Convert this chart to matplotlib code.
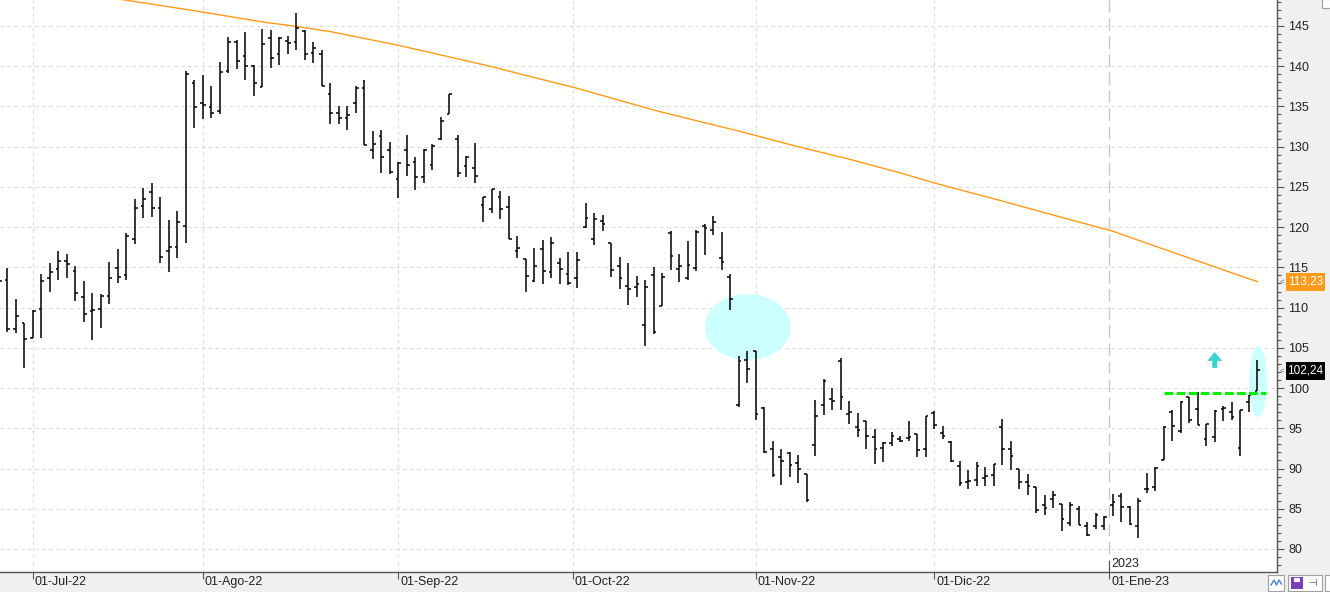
import numpy as np
import matplotlib
matplotlib.use("Agg")
import matplotlib.pyplot as plt
from matplotlib.patches import Ellipse, Polygon, Rectangle
from matplotlib.transforms import blended_transform_factory, ScaledTranslation

plt.rcParams['font.family'] = ['Liberation Sans', 'DejaVu Sans']
plt.rcParams['lines.scale_dashes'] = False

# ---------------- data (bar index 0 = 28-Jun-2022, trading days) ----------------
bar_index = list(range(-1, 148))
opens = [112.00, 113.48, 107.37, 108.12, 106.25, 109.87, 113.65, 114.77, 115.76, 114.52,
         111.28, 109.62, 109.87, 111.40, 114.98, 114.10, 118.50, 122.57, 124.32, 122.33,
         117.09, 117.59, 120.17, 137.86, 135.37, 134.91, 134.41, 139.39, 143.01, 141.26,
         140.02, 137.40, 143.50, 141.55, 143.13, 143.00, 144.42, 141.68, 141.55, 136.53,
         134.16, 133.54, 135.41, 137.32, 129.55, 131.34, 129.55, 125.94, 129.55, 128.06,
         126.19, 127.72, 130.92, 134.04, 130.92, 127.60, 127.31, 122.74, 122.24, 123.70,
         122.49, 117.01, 116.02, 113.32, 117.26, 114.44, 115.56, 114.15, 113.65, 120.00,
         118.51, 120.75, 118.09, 115.15, 112.66, 112.53, 107.80, 114.02, 110.25, 119.29,
         114.81, 113.73, 114.90, 120.17, 119.67, 116.18, 113.82, 97.91, 103.52, 104.56,
         97.50, 92.38, 91.47, 91.97, 90.64, 89.35, 92.92, 97.95, 98.66, 103.31,
         96.79, 95.21, 95.96, 93.96, 92.59, 93.18, 93.67, 93.84, 94.26, 92.43,
         96.91, 94.42, 93.30, 90.35, 88.27, 88.56, 88.81, 89.19, 95.21, 92.43,
         89.93, 88.38, 87.67, 85.42, 86.17, 85.58, 83.29, 85.00, 82.88, 82.88,
         82.88, 85.42, 86.58, 85.21, 82.88, 87.50, 87.67, 91.00, 97.00, 94.63,
         98.88, 97.38, 93.71, 93.92, 97.46, 97.08, 92.54, 98.33, 99.58]
highs = [114.80, 114.93, 111.03, 108.12, 109.70, 114.14, 115.51, 117.01, 116.64, 115.22,
         113.27, 111.78, 111.74, 115.64, 117.26, 119.25, 123.49, 124.86, 125.48, 123.74,
         120.87, 121.99, 139.44, 138.27, 138.90, 137.57, 140.56, 143.67, 143.30, 144.25,
         140.10, 144.67, 144.54, 143.63, 143.80, 146.66, 144.46, 143.05, 142.01, 137.94,
         135.00, 135.07, 137.57, 138.23, 131.96, 132.04, 130.59, 128.06, 131.46, 128.68,
         129.76, 130.34, 133.66, 136.49, 131.42, 128.89, 130.50, 123.78, 124.73, 124.44,
         123.90, 118.92, 116.02, 117.39, 118.38, 118.76, 116.14, 116.93, 116.93, 123.03,
         121.74, 121.54, 118.09, 116.27, 115.52, 113.90, 113.44, 115.06, 114.36, 119.46,
         116.64, 118.30, 119.67, 120.37, 121.41, 119.42, 114.15, 103.93, 104.64, 104.61,
         97.62, 93.42, 92.43, 92.05, 91.72, 89.35, 98.57, 101.11, 100.07, 103.73,
         98.45, 96.95, 95.96, 94.92, 93.30, 94.59, 94.05, 95.92, 94.30, 96.58,
         97.20, 95.33, 93.42, 90.97, 89.85, 90.81, 90.22, 90.56, 96.21, 93.46,
         89.93, 89.38, 87.67, 86.67, 87.25, 85.63, 85.79, 85.38, 83.33, 84.46,
         84.08, 86.88, 86.96, 85.33, 86.29, 89.50, 90.17, 95.25, 97.25, 98.38,
         98.88, 99.46, 95.54, 97.29, 97.75, 98.25, 97.25, 99.17, 103.54]
lows = [111.50, 106.96, 106.84, 102.48, 106.25, 106.21, 111.94, 113.48, 113.73, 110.86,
        108.21, 105.96, 107.46, 110.45, 113.06, 113.48, 117.92, 121.16, 121.29, 115.56,
        114.44, 116.18, 118.05, 132.38, 133.50, 133.54, 134.12, 139.14, 139.60, 138.23,
        136.24, 137.40, 139.73, 140.10, 141.47, 141.97, 140.72, 140.35, 137.48, 132.83,
        132.87, 132.13, 134.24, 130.17, 128.51, 126.77, 126.64, 123.65, 126.40, 124.65,
        125.48, 127.06, 130.80, 134.04, 126.27, 126.27, 125.52, 120.66, 121.74, 121.04,
        118.51, 116.22, 111.99, 113.15, 112.99, 113.73, 112.99, 112.82, 112.49, 119.92,
        117.72, 119.46, 113.86, 112.37, 110.37, 111.37, 105.27, 106.72, 110.17, 114.73,
        113.24, 113.49, 114.52, 116.56, 119.00, 114.73, 109.75, 97.62, 100.65, 96.04,
        91.93, 88.89, 87.94, 88.94, 88.19, 85.82, 91.51, 96.62, 97.25, 97.25,
        95.50, 93.88, 92.38, 90.52, 90.76, 92.80, 93.26, 93.38, 91.39, 91.39,
        94.92, 93.67, 90.76, 87.77, 87.40, 87.77, 87.81, 87.77, 90.43, 89.77,
        87.40, 86.75, 84.42, 84.21, 85.04, 82.21, 82.83, 83.00, 81.63, 82.46,
        82.38, 84.08, 83.33, 83.00, 81.33, 87.00, 87.21, 91.00, 93.46, 94.38,
        95.71, 95.38, 92.83, 93.29, 95.88, 96.04, 91.50, 97.00, 99.58]
closes = [113.27, 107.37, 108.91, 106.13, 109.53, 113.27, 114.48, 115.76, 115.39, 111.86,
          109.16, 109.66, 111.49, 113.65, 113.77, 118.88, 122.33, 123.49, 122.33, 116.35,
          117.51, 120.62, 139.02, 134.91, 135.16, 134.16, 139.31, 143.01, 140.64, 140.02,
          137.90, 142.80, 141.00, 143.55, 142.88, 144.71, 141.55, 142.26, 137.48, 134.16,
          133.54, 133.91, 137.32, 130.26, 130.30, 128.72, 126.81, 127.93, 127.72, 126.19,
          129.55, 130.09, 133.25, 136.49, 126.69, 128.76, 126.35, 123.70, 124.69, 122.20,
          118.51, 117.39, 113.90, 115.15, 114.56, 118.05, 114.77, 113.03, 115.89, 121.12,
          121.00, 120.37, 114.69, 113.65, 112.28, 112.90, 112.53, 106.93, 113.78, 116.39,
          115.15, 115.27, 119.42, 119.88, 120.62, 115.68, 111.08, 103.39, 102.40, 96.79,
          92.01, 89.23, 90.93, 90.47, 89.93, 86.03, 96.54, 100.86, 98.45, 98.91,
          97.00, 94.79, 94.09, 92.43, 93.22, 94.05, 93.42, 93.96, 92.34, 96.54,
          95.46, 94.00, 90.93, 88.23, 88.48, 90.35, 89.06, 90.52, 92.43, 91.60,
          88.31, 87.88, 84.83, 85.13, 86.75, 83.75, 85.42, 83.00, 81.79, 84.21,
          83.96, 85.88, 85.17, 83.13, 86.00, 87.42, 90.08, 95.17, 95.25, 98.29,
          96.00, 95.46, 95.50, 97.21, 97.54, 96.46, 97.25, 99.08, 102.24]

# moving average (orange), read at selected bar indices
ma_index = [5, 14, 22, 30, 34, 38, 46, 51, 57, 60, 67, 76, 80, 86, 93, 99, 105, 109, 117, 123, 130, 134, 140, 147]
ma_values = [149.7, 148.2, 146.9, 145.5, 144.95, 144.3, 142.6, 141.4, 139.94, 139.12, 137.26, 134.56, 133.5,
             131.95, 130.0, 128.45, 126.75, 125.5, 123.25, 121.5, 119.5, 118.0, 115.8, 113.23]

month_pos = [3, 23, 46, 66.5, 88, 109]
month_labels = ['01-Jul-22', '01-Ago-22', '01-Sep-22', '01-Oct-22', '01-Nov-22', '01-Dic-22']
year_pos = 129.6
year_tick_label = '01-Ene-23'
year_label = '2023'

resistance_level = 99.38
resistance_span = (136.0, 148.0)
last_close_label = '102,24'
ma_last_label = '113,23'

# ---------------- figure ----------------
W, H = 1330, 592
fig = plt.figure(figsize=(W / 100, H / 100), dpi=100, facecolor='#F0F0F0')
AX_R = 1277
AX_B = 20
ax = fig.add_axes([0, AX_B / H, AX_R / W, (H - AX_B) / H])
ax.set_facecolor('white')

px_per_bar = 8.503
x_left = -7.3 / px_per_bar
x_right = (AX_R - 7.3) / px_per_bar
ax.set_xlim(x_left, x_right)
ax.set_ylim(77.14, 148.23)

# grid
grid_kw = dict(color='#DCDCDC', lw=0.8, dashes=(2.5, 2.5), zorder=0)
for v in range(80, 150, 5):
    ax.axhline(v, **grid_kw)
for p in month_pos:
    ax.axvline(p, **grid_kw)
ax.axvline(year_pos, color='#C8C8C8', lw=1.0, dashes=(9, 4), zorder=0)

# highlight ellipses
ax.add_patch(Ellipse((87.1, 107.59), 10.1, 8.2, facecolor='#CCFFFF', edgecolor='none', zorder=1))
ax.add_patch(Ellipse((147.1, 100.82), 2.12, 8.82, facecolor='#CCFFFF', edgecolor='none', zorder=1))

# moving average
ax.plot(ma_index, ma_values, color='#FF9A1A', lw=1.0, zorder=2)

# OHLC bars
x = np.array(bar_index, dtype=float)
tick_w = 0.32
ax.vlines(x, lows, highs, color='black', lw=1.1, zorder=3)
ax.hlines(opens, x - tick_w, x, color='black', lw=1.1, zorder=3)
ax.hlines(closes, x, x + tick_w, color='black', lw=1.1, zorder=3)

# resistance line
ax.hlines(resistance_level, resistance_span[0], resistance_span[1], color='#00EE00',
          lw=2.2, linestyles=(0, (6.3, 2.4)), zorder=4)

# up arrow
ax_c, tip, neck, base = 142.0, 104.48, 103.37, 102.5
hw, sw = 0.88, 0.3
ax.add_patch(Polygon([(ax_c - hw, neck), (ax_c, tip), (ax_c + hw, neck), (ax_c + sw, neck),
                      (ax_c + sw, base), (ax_c - sw, base), (ax_c - sw, neck)],
                     closed=True, facecolor='#3ECFCF', edgecolor='none', zorder=4))

# axes styling
for s in ['left', 'top']:
    ax.spines[s].set_visible(False)
for s in ['bottom', 'right']:
    ax.spines[s].set_color('#555555')
    ax.spines[s].set_linewidth(1.0)

ax.yaxis.tick_right()
ax.set_yticks(np.arange(80, 146, 5))
ax.set_yticks(np.arange(78, 149, 1), minor=True)
ax.set_yticklabels([str(v) for v in range(80, 146, 5)])
ax.tick_params(axis='y', which='major', length=5, width=0.8, color='#555555', labelsize=9,
               labelcolor='#222222', pad=3)
ax.tick_params(axis='y', which='minor', length=3, width=0.8, color='#555555')

ax.set_xticks(month_pos + [year_pos])
ax.set_xticklabels([])
ax.tick_params(axis='x', which='major', length=5, width=0.8, color='#555555')

xt = ax.get_xaxis_transform()
off = ScaledTranslation(2 / 100, -4 / 100, fig.dpi_scale_trans)
for p, lab in zip(month_pos + [year_pos], month_labels + [year_tick_label]):
    ax.text(p, 0, lab, transform=xt + off, ha='left', va='top', fontsize=9, color='#222222')
ax.text(year_pos, 0, year_label, transform=xt + ScaledTranslation(2 / 100, 2 / 100, fig.dpi_scale_trans),
        ha='left', va='bottom', fontsize=9, color='#222222', zorder=5)
ax.plot([year_pos, year_pos], [0, 0.02], transform=xt, color='#555555', lw=0.8, clip_on=False)

# value badges at the right
bt = blended_transform_factory(fig.transFigure, ax.transData)
for val, lab, col in [(113.23, ma_last_label, '#FF9A1A'), (102.14, last_close_label, '#000000')]:
    hh = 18 / 8.046
    fig.patches.append(Rectangle((1286 / W, val - hh / 2), 39 / W, hh, transform=bt,
                                 facecolor=col, edgecolor='none', zorder=5))
    fig.text(1305.5 / W, val, lab, transform=bt, ha='center', va='center', fontsize=8.5,
             color='white', zorder=6)
    fig.text(1282 / W, val, '<', transform=bt, ha='center', va='center', fontsize=6,
             color='#666666', zorder=6)

# small toolbar icons
def fig_rect(x0, y0, x1, y1, **kw):
    fig.patches.append(Rectangle((x0 / W, 1 - y1 / H), (x1 - x0) / W, (y1 - y0) / H,
                                 transform=fig.transFigure, **kw))

fig_rect(1268, 575, 1284, 591, facecolor='white', edgecolor='#A0A0A0', lw=0.8)
fig.lines.append(plt.Line2D([1271 / W, 1274 / W, 1276.5 / W, 1279 / W, 1281.5 / W],
                            [1 - 585 / H, 1 - 580 / H, 1 - 585 / H, 1 - 580 / H, 1 - 584 / H],
                            transform=fig.transFigure, color='#4A7FD4', lw=1.0))
fig_rect(1288, 575, 1322, 591, facecolor='white', edgecolor='#A0A0A0', lw=0.8)
fig_rect(1291, 577, 1303, 589, facecolor='#7A3FC0', edgecolor='none')
fig_rect(1294, 578, 1300, 582, facecolor='white', edgecolor='none')
fig.text(1312 / W, 1 - 583 / H, '⊣', fontsize=7, color='#444444', ha='center', va='center',
         family=['DejaVu Sans'])
fig_rect(1325, 575, 1331, 591, facecolor='white', edgecolor='#A0A0A0', lw=0.8)
fig_rect(1322, -1, 1331, 8, facecolor='white', edgecolor='#A0A0A0', lw=0.8)

fig.savefig('out.png', dpi=100, facecolor=fig.get_facecolor())
